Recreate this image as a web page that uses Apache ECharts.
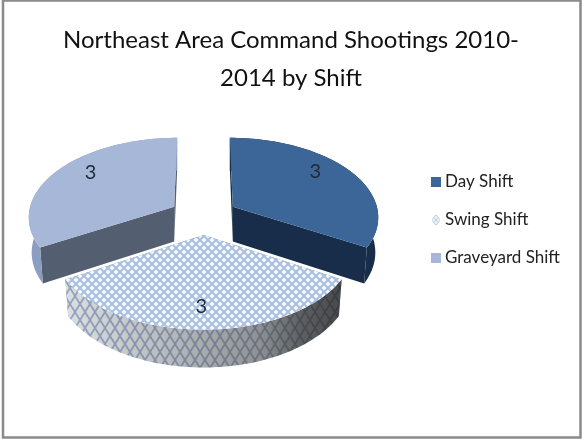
<!DOCTYPE html>
<html><head><meta charset="utf-8">
<style>html,body{margin:0;padding:0;background:#fff}#c{width:582px;height:439px}</style>
<script src="https://cdn.jsdelivr.net/npm/echarts@6/dist/echarts.min.js"></script>
</head><body><div id="c"></div>
<script>
const titleText = 'Northeast Area Command Shootings 2010-\n2014 by Shift';
const shiftNames = ['Day Shift', 'Swing Shift', 'Graveyard Shift'];
const shiftValues = [3, 3, 3];
const valueLabels = ['3', '3', '3'];

const total = shiftValues.reduce((a, b) => a + b, 0);
const CX = 203.5, CY = 216, RX = 146, RY = 79, PERSP = 0.115, EXPLODE = 0.235, DEPTH = 35, WALLX = 0.98;

function tile(w, h, bg, line, lw) {
  const c = document.createElement('canvas');
  c.width = w; c.height = h;
  const g = c.getContext('2d');
  g.fillStyle = bg; g.fillRect(0, 0, w, h);
  g.strokeStyle = line; g.lineWidth = lw;
  g.beginPath();
  g.moveTo(-w, -h); g.lineTo(2 * w, 2 * h);
  g.moveTo(2 * w, -h); g.lineTo(-w, 2 * h);
  g.stroke();
  return c;
}
const hatchTop = tile(8, 8, '#f6f9fe', '#a9bfdf', 2);
const hatchSide = tile(10, 16, '#f0f1f3', '#9db2d2', 1.8);
const wallShade = { type: 'linear', x: 0, y: 0, x2: 1, y2: 0, colorStops: [
  { offset: 0, color: 'rgba(60,60,60,0.1)' },
  { offset: 0.4, color: 'rgba(60,60,60,0.32)' },
  { offset: 0.7, color: 'rgba(50,50,50,0.5)' },
  { offset: 0.85, color: 'rgba(40,40,40,0.72)' },
  { offset: 1, color: 'rgba(30,30,30,0.8)' }
] };
const looks = [
  { top: '#3c6698', cut: '#182d4a', wall: '#182d4a', labelShift: -8 },
  { top: { image: hatchTop, repeat: 'repeat' }, cut: '#888', wall: { image: hatchSide, repeat: 'repeat' }, shade: wallShade, labelShift: 1 },
  { top: '#a6b7d8', cut: '#535e71', wall: '#8c9dc2', labelShift: 7 }
];

function project(X, Y) {
  const s = 1 / (1 + PERSP * Y);
  return { x: CX + X * RX * s, y: CY - Y * RY * s, s };
}
function diskPoint(deg, r, ox, oy) {
  const a = deg * Math.PI / 180;
  return project(ox + r * Math.sin(a), oy + r * Math.cos(a));
}
function sliceShapes(index, value) {
  let start = 0;
  for (let i = 0; i < index; i++) start += shiftValues[i] / total * 360;
  const sweep = value / total * 360;
  const mid = (start + sweep / 2) * Math.PI / 180;
  const ox = EXPLODE * Math.sin(mid), oy = EXPLODE * Math.cos(mid);
  const apex = project(ox, oy);
  const down = p => [apex.x + (p.x - apex.x) * WALLX, p.y + DEPTH * Math.sqrt(p.s)];
  const arc = [];
  for (let i = 0; i <= 72; i++) arc.push(diskPoint(start + sweep * i / 72, 1, ox, oy));
  const xy = p => [p.x, p.y];
  const look = looks[index];
  const first = arc[0], last = arc[arc.length - 1];
  const poly = (points, fill) => ({ type: 'polygon', shape: { points }, style: { fill }, silent: true });
  const wallPts = arc.map(xy).concat(arc.slice().reverse().map(down));
  const kids = [];
  kids.push(poly([xy(apex), xy(first), down(first), down(apex)], look.cut));
  kids.push(poly([xy(apex), xy(last), down(last), down(apex)], look.cut));
  kids.push(poly(wallPts, look.wall));
  if (look.shade) kids.push(poly(wallPts, look.shade));
  kids.push(poly([xy(apex)].concat(arc.map(xy)), look.top));
  const lp = diskPoint(start + sweep / 2 + look.labelShift, 0.78, ox, oy);
  kids.push({ type: 'text', x: lp.x, y: lp.y, silent: true, style: {
    text: valueLabels[index], fill: '#1f2a3a', font: '20px Lato', align: 'center', verticalAlign: 'middle' } });
  return kids;
}

const legendSwing = (() => {
  const c = document.createElement('canvas'); c.width = 12; c.height = 14;
  const g = c.getContext('2d');
  g.fillStyle = '#f4f8fd';
  g.beginPath(); g.moveTo(6, 0); g.lineTo(12, 7); g.lineTo(6, 14); g.lineTo(0, 7); g.closePath(); g.fill();
  g.strokeStyle = '#9fb4d4'; g.lineWidth = 1; g.stroke();
  g.beginPath(); g.moveTo(3, 3.5); g.lineTo(9, 10.5); g.moveTo(9, 3.5); g.lineTo(3, 10.5); g.stroke();
  return c.toDataURL();
})();

const chart = echarts.init(document.getElementById('c'), null, { renderer: 'canvas' });
chart.setOption({
  animation: false,
  backgroundColor: '#fff',
  title: { text: titleText, left: 'center', top: 16, textStyle: { fontFamily: 'Lato', fontSize: 24, fontWeight: 'normal', color: '#111', lineHeight: 38 } },
  legend: {
    orient: 'vertical', left: 426, top: 168, itemWidth: 10, itemHeight: 10, itemGap: 20, selectedMode: false,
    textStyle: { fontFamily: 'Lato', fontSize: 17, color: '#222', lineHeight: 18, padding: [0, 0, 0, -1] },
    data: [
      { name: shiftNames[0], icon: 'rect', itemStyle: { color: '#3c6698' } },
      { name: shiftNames[1], icon: 'image://' + legendSwing },
      { name: shiftNames[2], icon: 'rect', itemStyle: { color: '#a6b7d8' } }
    ]
  },
  graphic: [{ type: 'rect', silent: true, shape: { x: 3, y: 0.5, width: 577.5, height: 437 }, style: { stroke: '#8a8a8a', lineWidth: 2.5, fill: null } }],
  series: shiftNames.map((name, index) => ({
    type: 'custom', name, coordinateSystem: 'none', silent: true, z: index === 1 ? 3 : 2,
    itemStyle: { color: index === 1 ? '#a9bfdf' : looks[index].top },
    data: [[shiftValues[index]]],
    renderItem: (params, api) => ({ type: 'group', children: sliceShapes(index, api.value(0)) })
  }))
});
</script></body></html>
